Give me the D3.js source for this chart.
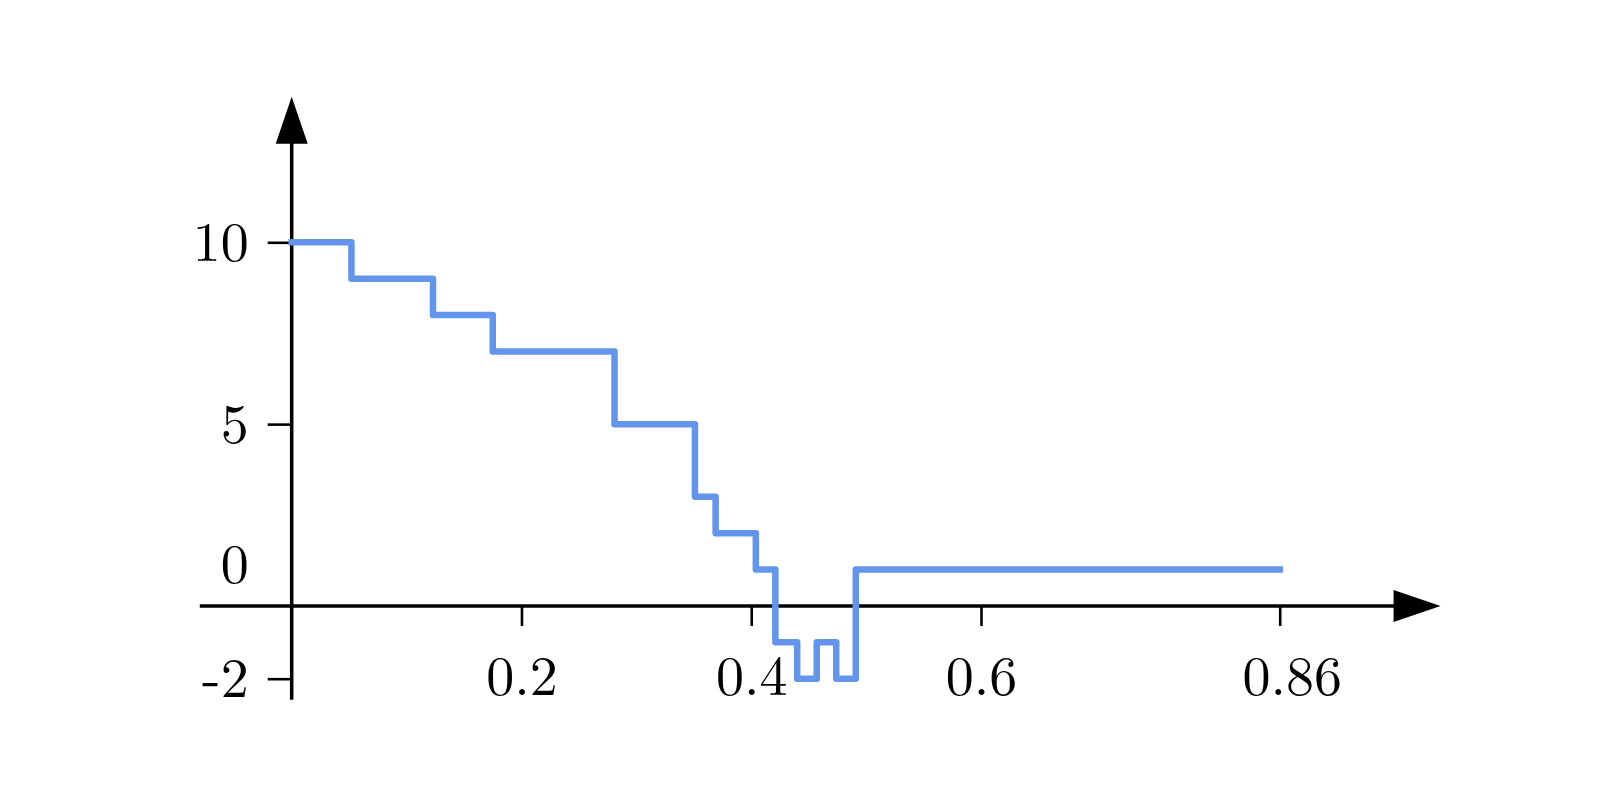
<!DOCTYPE html>
<html>
<head>
<meta charset="utf-8">
<script src="https://cdn.jsdelivr.net/npm/d3@7"></script>
<style>
  body { margin: 0; background: #fff; }
  text { font-family: "Latin Modern Roman", "CMU Serif", "Liberation Serif", serif; }
</style>
</head>
<body>
<div id="chart"></div>
<script>
// step breakpoints (x) and the level held from each one onward
var stepX = [0, 0.052, 0.123, 0.175, 0.281, 0.351, 0.369, 0.404, 0.421, 0.44, 0.457, 0.474, 0.491, 0.86];
var stepY = [10, 9, 8, 7, 5, 3, 2, 1, -1, -2, -1, -2, 1, 1];
var xTicks = [0.2, 0.4, 0.6, 0.86];
var yTicks = [-2, 0, 5, 10];

var W = 1600, H = 800;
var fontSize = 56;

var svg = d3.select("#chart").append("svg")
   .attr("width", W)
   .attr("height", H);

// scales (x from -0.08 to 1, y from -2.58 to 14 where the arrows end)
var x = d3.scaleLinear().domain([0, 0.86]).range([291.7, 1279.7]);
var y = d3.scaleLinear().domain([-2, 10]).range([678.7, 242.3]);
var xMin = -0.08, xMax = 1, yMin = -2.58, yMax = 14;

// x axis
var gx = svg.append("g")
   .attr("transform", "translate(0," + y(0) + ")")
   .call(d3.axisBottom(x).tickValues(xTicks).tickSize(20).tickPadding(29)
      .tickFormat(function(d){ return String(d); }));
gx.select(".domain").remove();
gx.selectAll(".tick line").attr("stroke", "#000").attr("stroke-width", 2.6);
gx.selectAll(".tick text").attr("font-size", fontSize).attr("fill", "#000")
   .attr("font-family", null)
   .attr("dx", function(d){ return d === 0.86 ? 12 : 0; });

// y axis
var gy = svg.append("g")
   .attr("transform", "translate(" + x(0) + ",0)")
   .call(d3.axisLeft(y).tickValues(yTicks).tickSize(24).tickPadding(19)
      .tickFormat(function(d){ return String(d); }));
gy.select(".domain").remove();
gy.selectAll(".tick line").attr("stroke", "#000").attr("stroke-width", 2.6)
   .attr("display", function(d){ return d === 0 ? "none" : null; });
gy.selectAll(".tick text").attr("font-size", fontSize).attr("fill", "#000")
   .attr("font-family", null)
   .attr("y", function(d){ return d === 0 ? -41 : 0; });

// axis lines
svg.append("line")
   .attr("x1", x(xMin)).attr("x2", x(xMax) - 40)
   .attr("y1", y(0)).attr("y2", y(0))
   .attr("stroke", "#000").attr("stroke-width", 3.5);
svg.append("line")
   .attr("x1", x(0)).attr("x2", x(0))
   .attr("y1", y(yMin)).attr("y2", y(yMax) + 40)
   .attr("stroke", "#000").attr("stroke-width", 3.5);

// arrow heads
var aLen = 47, aHalf = 16;
svg.append("path")
   .attr("d", "M" + x(xMax) + "," + y(0) +
      "L" + (x(xMax) - aLen) + "," + (y(0) - aHalf) +
      "L" + (x(xMax) - aLen) + "," + (y(0) + aHalf) + "Z")
   .attr("fill", "#000");
svg.append("path")
   .attr("d", "M" + x(0) + "," + y(yMax) +
      "L" + (x(0) - aHalf) + "," + (y(yMax) + aLen) +
      "L" + (x(0) + aHalf) + "," + (y(yMax) + aLen) + "Z")
   .attr("fill", "#000");

// step line
var pts = stepX.map(function(d, i){ return [d, stepY[i]]; });
var line = d3.line()
   .x(function(d){ return x(d[0]); })
   .y(function(d){ return y(d[1]); })
   .curve(d3.curveStepAfter);

svg.append("path")
   .datum(pts)
   .attr("d", line)
   .attr("fill", "none")
   .attr("stroke", "#6495ED")
   .attr("stroke-width", 6.5)
   .attr("stroke-linejoin", "round")
   .attr("stroke-linecap", "square");
</script>
</body>
</html>
